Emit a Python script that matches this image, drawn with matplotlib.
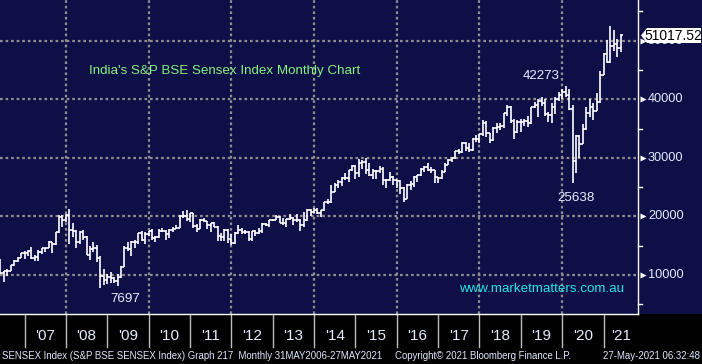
import numpy as np
import matplotlib
matplotlib.use("Agg")
import matplotlib.pyplot as plt
from matplotlib.patches import Rectangle, Polygon
from matplotlib.transforms import blended_transform_factory

# Monthly OHLC, May 2006 .. May 2021
opens = [
    12043, 10399, 10609, 10744, 11699, 12454, 12962, 13696,
    13787, 14091, 12938, 13072, 13872, 14544, 14651, 15551, 15319, 17291, 19838, 19363,
    20287, 17649, 17579, 15644, 17287, 16416, 13462, 14356, 14565, 12860, 9788, 9093,
    9647, 9424, 8892, 9709, 11403, 14625, 14494, 15670, 15667, 17127, 15896, 16926,
    17465, 16358, 16430, 17528, 17559, 16945, 17701, 17868, 17971, 20069, 20032, 19521,
    20509, 18328, 17823, 19445, 19136, 18503, 18845, 18197, 16676, 16454, 17705, 16123,
    15455, 17194, 17753, 17404, 17319, 16219, 17430, 17236, 17430, 18763, 18505, 19340,
    19427, 19895, 18862, 18836, 19504, 19760, 19396, 19346, 18620, 19380, 21165, 20792,
    21171, 20514, 21120, 22386, 22418, 24217, 25414, 25895, 26638, 26631, 27866, 28694,
    27499, 29183, 29362, 27957, 27011, 27828, 27781, 28115, 26283, 26155, 26657, 26146,
    26118, 24871, 23002, 25342, 25607, 26668, 26999, 28052, 28452, 27866, 27930, 26653,
    26626, 27656, 28743, 29621, 29918, 31146, 30922, 32515, 31730, 31284, 33213, 33149,
    34057, 35965, 34184, 32969, 35160, 35322, 35423, 37607, 38645, 36227, 34442, 36194,
    36068, 36257, 35867, 38673, 39032, 39714, 39395, 37481, 37333, 38667, 40129, 40794,
    41254, 40723, 38297, 29468, 33717, 32424, 34916, 37607, 38628, 38068, 39614, 44150,
    47751, 46286, 49100, 49509, 48782,
]
highs = [
    12671, 10720, 11000, 11750, 12500, 13100, 13800, 14035,
    14325, 14724, 13386, 14228, 14576, 14683, 15869, 15700, 17361, 20238, 20204, 20498,
    21206, 18895, 17600, 17480, 17735, 16632, 14942, 15579, 15107, 13203, 10945, 10189,
    10469, 9724, 10127, 11492, 14930, 15600, 15732, 16002, 17142, 17493, 17290, 17530,
    17790, 16669, 17793, 18048, 17600, 17919, 18237, 18475, 20267, 20854, 21108, 20552,
    20664, 18690, 19575, 19811, 19253, 18873, 19131, 18440, 17211, 17908, 17908, 17003,
    17258, 18523, 18040, 17664, 17432, 17448, 17631, 17972, 18870, 18869, 19372, 19612,
    20204, 20023, 19754, 19623, 20444, 19860, 20351, 19569, 20739, 21205, 21321, 21484,
    21409, 21140, 22467, 22939, 25376, 25735, 26300, 26674, 27355, 27894, 28822, 28810,
    29844, 29560, 30025, 29094, 28071, 27968, 28578, 28418, 26472, 27618, 26824, 26256,
    26197, 25002, 25479, 26100, 26837, 27105, 28240, 28532, 29077, 28477, 27981, 26803,
    27980, 29065, 29824, 30184, 31255, 31523, 32672, 32686, 32524, 33340, 33865, 34138,
    36444, 36256, 34278, 35213, 35993, 35877, 37645, 38990, 38934, 36617, 36389, 36555,
    36702, 37172, 38749, 39487, 40125, 40312, 40032, 37807, 39442, 40392, 41163, 41810,
    42273, 41709, 39083, 33887, 33900, 35706, 38617, 40010, 39360, 41048, 44825, 47896,
    50184, 52516, 51822, 50375, 51115,
]
lows = [
    10100, 8799, 9875, 10600, 11500, 12300, 12900, 12801,
    13304, 12800, 12316, 12426, 13554, 13946, 14638, 13780, 15200, 17144, 18182, 19079,
    15332, 16457, 14677, 15297, 16044, 13405, 12514, 14002, 12153, 7697, 8316, 8467,
    8631, 8619, 8047, 9546, 11300, 14016, 13219, 14684, 15357, 15805, 15330, 16577,
    15982, 15651, 16400, 17276, 15960, 16318, 17395, 17820, 17950, 19768, 19136, 19074,
    18038, 17295, 17792, 18976, 17786, 17314, 18131, 15765, 15801, 15745, 15478, 15135,
    15358, 17061, 16920, 17010, 15810, 15749, 16598, 17026, 17250, 18393, 18255, 19149,
    19400, 18794, 18568, 18144, 19451, 18467, 19127, 17449, 18166, 19264, 20137, 20569,
    20343, 19963, 20920, 22197, 22277, 24150, 24892, 25232, 26220, 25910, 27740, 26469,
    26776, 28044, 27248, 26898, 26424, 26307, 27416, 25298, 24833, 26100, 25451, 24867,
    23839, 22495, 22995, 24523, 25058, 25911, 26853, 27627, 27716, 27488, 25718, 25754,
    26447, 27591, 28716, 29241, 29804, 30680, 30841, 31128, 31082, 31250, 32684, 32565,
    33703, 33482, 32483, 32900, 34302, 34785, 35106, 37128, 35986, 33292, 34303, 34426,
    35376, 35287, 35800, 38460, 36956, 38871, 37128, 36103, 35988, 37415, 39750, 40135,
    40476, 38220, 25638, 27500, 29968, 32348, 34800, 36911, 36495, 37991, 39334, 44118,
    46160, 46200, 48237, 47204, 48028,
]
closes = [
    10399, 10609, 10744, 11699, 12454, 12962, 13696, 13787,
    14091, 12938, 13072, 13872, 14544, 14651, 15551, 15319, 17291, 19838, 19363, 20287,
    17649, 17579, 15644, 17287, 16416, 13462, 14356, 14565, 12860, 9788, 9093, 9647,
    9424, 8892, 9709, 11403, 14625, 14494, 15670, 15667, 17127, 15896, 16926, 17465,
    16358, 16430, 17528, 17559, 16945, 17701, 17868, 17971, 20069, 20032, 19521, 20509,
    18328, 17823, 19445, 19136, 18503, 18845, 18197, 16676, 16454, 17705, 16123, 15455,
    17194, 17753, 17404, 17319, 16219, 17430, 17236, 17430, 18763, 18505, 19340, 19427,
    19895, 18862, 18836, 19504, 19760, 19396, 19346, 18620, 19380, 21165, 20792, 21171,
    20514, 21120, 22386, 22418, 24217, 25414, 25895, 26638, 26631, 27866, 28694, 27499,
    29183, 29362, 27957, 27011, 27828, 27781, 28115, 26283, 26155, 26657, 26146, 26118,
    24871, 23002, 25342, 25607, 26668, 26999, 28052, 28452, 27866, 27930, 26653, 26626,
    27656, 28743, 29621, 29918, 31146, 30922, 32515, 31730, 31284, 33213, 33149, 34057,
    35965, 34184, 32969, 35160, 35322, 35423, 37607, 38645, 36227, 34442, 36194, 36068,
    36257, 35867, 38673, 39032, 39714, 39395, 37481, 37333, 38667, 40129, 40794, 41254,
    40723, 38297, 29468, 33717, 32424, 34916, 37607, 38628, 38068, 39614, 44150, 47751,
    46286, 49100, 49509, 48782, 51017.52,
]
years = list(range(2007, 2022))
year_labels = ["'%02d" % (y % 100) for y in years]
y_ticks = [10000, 20000, 30000, 40000, 50000]
last_price = "51017.52"

W, H = 702, 364
NAVY = "#0f0f47"
FONT = "Liberation Sans"

fig = plt.figure(figsize=(W / 100, H / 100), dpi=100, facecolor=NAVY)
fig.patches.append(Rectangle((0, 0), 1, 50 / H, transform=fig.transFigure,
                             facecolor="black", edgecolor="none", zorder=-1))

ax = fig.add_axes([0, 50 / H, 638 / W, 314 / H])
ax.set_facecolor(NAVY)
ax.set_xlim(-7.11, 177.99)
ax.set_ylim(3341, 56953)
ax.set_xticks([])
ax.set_yticks([])
for s in ("top", "left"):
    ax.spines[s].set_visible(False)
for s in ("bottom", "right"):
    ax.spines[s].set_color("white")
    ax.spines[s].set_linewidth(1.0)

dots = (0, (1.2, 1.3))
for v in y_ticks:
    ax.axhline(v, color="#8e8e8e", lw=1.6, ls=dots, zorder=1)
for yr in years[1::2]:
    ax.axvline(12 * (yr - 2007), color="#8e8e8e", lw=1.6, ls=dots, zorder=1)

# OHLC bars, month-end positions
t = np.arange(len(closes)) - 7
ax.vlines(t, lows, highs, color="white", lw=1.2, zorder=3)
ax.hlines(opens, t - 0.5, t, color="white", lw=1.2, zorder=3)
ax.hlines(closes, t, t + 0.5, color="white", lw=1.2, zorder=3)

# right axis
tr = blended_transform_factory(ax.transAxes, ax.transData)
for v in range(5000, 60000, 10000):
    ax.plot([1, 1 + 4 / 638], [v, v], color="white", lw=1, transform=tr, clip_on=False)
for v in y_ticks:
    ax.plot([1 + 5 / 638], [v], marker=">", ms=5, color="white", mec="none",
            transform=tr, clip_on=False)
    ax.text(1 + 10 / 638, v, str(v), transform=tr, va="center", ha="left",
            color="#e4ecff", fontsize=9.2, family=FONT, clip_on=False)

# bottom axis
tb = blended_transform_factory(ax.transData, ax.transAxes)
for yr in years:
    tx = 12 * (yr - 2007)
    ax.plot([tx, tx], [0, -33 / 314], color="#bdbdbd", lw=1, transform=tb, clip_on=False)
for yr, lab in zip(years, year_labels):
    cx = 12 * (yr - 2007) + 6
    if yr == 2021:
        cx = (12 * (yr - 2007) + 177.99) / 2
    ax.text(cx, -22 / 314, lab, transform=tb, ha="center", va="center",
            color="#e4ecff", fontsize=11, family=FONT, clip_on=False)


def px(x, y):
    return x / W, 1 - y / H


# last price tag
poly = [px(641, 35.5), px(647, 28), px(701, 28), px(701, 43), px(647, 43)]
fig.patches.append(Polygon(poly, closed=True, transform=fig.transFigure,
                           facecolor="white", edgecolor="none", zorder=5))
fig.text(*px(673, 36), last_price, ha="center", va="center", color="black",
         fontsize=10, family=FONT, zorder=6)

# annotations
fig.text(*px(225, 71), "India's S&P BSE Sensex Index Monthly Chart", ha="center",
         va="center", color="#86f27e", fontsize=9.6, family=FONT)
fig.text(*px(542, 289), "www.marketmatters.com.au", ha="center", va="center",
         color="#22e6e6", fontsize=9.6, family=FONT)
fig.text(*px(541, 76), "42273", ha="center", va="center", color="#e8eeff",
         fontsize=9.6, family=FONT)
fig.text(*px(576, 198), "25638", ha="center", va="center", color="#e8eeff",
         fontsize=9.6, family=FONT)
fig.text(*px(125, 299), "7697", ha="center", va="center", color="#e8eeff",
         fontsize=9.6, family=FONT)

# footer
foot = "#dfe8ff"
fig.text(*px(2, 356), "SENSEX Index (S&P BSE SENSEX Index) Graph 217  Monthly 31MAY2006-27MAY2021",
         ha="left", va="center", color=foot, fontsize=6.9, family=FONT)
fig.text(*px(395, 356), "Copyright\u00a9 2021 Bloomberg Finance L.P.", ha="left",
         va="center", color=foot, fontsize=6.9, family=FONT)
fig.text(*px(700, 356), "27-May-2021 06:32:48", ha="right", va="center",
         color=foot, fontsize=6.9, family=FONT)

fig.savefig("out.png", dpi=100, facecolor=fig.get_facecolor())
